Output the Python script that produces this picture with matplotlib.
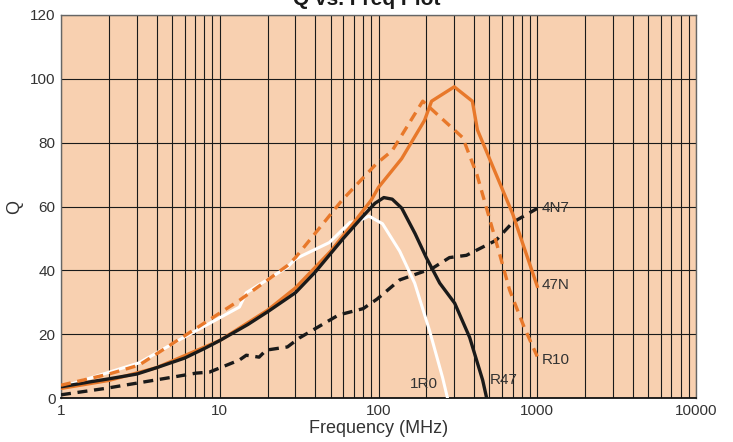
import matplotlib.pyplot as plt
from matplotlib.ticker import FixedLocator, NullFormatter

plt.rcParams['font.family'] = ['Liberation Sans', 'DejaVu Sans']

# Q vs frequency
f_47n = [1, 2, 4, 10, 20, 30, 50, 70, 90, 100, 140, 195, 216, 300, 390, 420, 700, 1000]
q_47n = [3, 5.5, 9.5, 18, 27.5, 34.5, 46, 55, 62, 66, 75, 87, 93, 97.5, 93, 84, 57.7, 35]

f_r10 = [1, 2, 3.1, 5.8, 13.3, 26.7, 30, 59, 97, 122, 190, 339, 417, 580, 670, 830, 1000]
q_r10 = [4, 7.5, 10.3, 19, 30.6, 41.5, 44, 62, 73.4, 77.5, 93, 81.6, 70, 45, 33.8, 22, 13]

f_r47 = [1, 1.5, 2, 3, 4, 6, 8, 10, 15, 20, 30, 40, 60, 80, 95, 108, 122, 140, 170, 200, 243, 302, 375, 453, 480]
q_r47 = [3.5, 5, 6, 7.5, 9.5, 12.5, 15.5, 18, 23, 27, 33, 39.5, 50, 57, 61, 62.8, 62.3, 59.5, 51.5, 44, 36, 29.7, 19, 5.6, 0]

f_1r0 = [1, 3.1, 5.8, 13.3, 14.7, 26.7, 30, 49, 66, 76, 87, 106, 136, 169, 210, 253, 272]
q_1r0 = [3.4, 11, 18.7, 28.5, 33, 41, 43.6, 48.7, 55, 55.6, 57, 54.6, 46, 36, 21, 6.5, 0]

f_4n7 = [1, 1.9, 5, 7.1, 8.6, 13.3, 14.7, 17.7, 19.6, 26.7, 31.7, 56, 80, 98, 136, 218, 280, 358, 550, 700, 1000]
q_4n7 = [1, 3, 6.5, 7.8, 8.1, 11.9, 13.4, 12.8, 15, 16, 18.8, 26, 28, 31, 37, 40.6, 44, 44.7, 49.4, 55, 59.4]

labels = ['4N7', '47N', 'R10', 'R47', '1R0']
label_x = [1060, 1060, 1060, 502, 157]
label_y = [59.5, 35.5, 12, 5.5, 4.5]

orange = '#e8782a'
txt = '#333333'

fig = plt.figure(figsize=(7.33, 4.42), dpi=100)
ax = fig.add_axes([61 / 733, 1 - 398 / 442, (696 - 61) / 733, (398 - 15) / 442])
ax.set_facecolor('#f8d0b0')
ax.set_xscale('log')
ax.set_xlim(1, 10000)
ax.set_ylim(0, 120)

ax.xaxis.set_major_locator(FixedLocator([1, 10, 100, 1000, 10000]))
ax.xaxis.set_minor_locator(FixedLocator([m * 10 ** d for d in range(4) for m in range(2, 10)]))
ax.xaxis.set_minor_formatter(NullFormatter())
ax.set_xticklabels(['1', '10', '100', '1000', '10000'])
ax.set_yticks(range(0, 121, 20))
ax.grid(True, which='both', axis='x', color='#1a1a1a', lw=0.8)
ax.grid(True, which='major', axis='y', color='#1a1a1a', lw=0.8)
ax.tick_params(which='both', length=0, labelsize=11, labelcolor=txt, pad=4)
for s in ax.spines.values():
    s.set_color('#666666')
    s.set_linewidth(1.0)
ax.spines['bottom'].set_color('#111111')
ax.spines['bottom'].set_linewidth(1.3)

ax.plot(f_4n7, q_4n7, color='#1a1a1a', lw=2.4, ls=(0, (3, 2)), zorder=3)
ax.plot(f_1r0, q_1r0, color='white', lw=2.2, zorder=3)
ax.plot(f_47n, q_47n, color=orange, lw=2.4, zorder=3)
ax.plot(f_r47, q_r47, color='#1a1a1a', lw=2.4, zorder=4)
ax.plot(f_r10, q_r10, color=orange, lw=2.4, ls=(0, (3, 2)), zorder=4)

for t, x, y in zip(labels, label_x, label_y):
    ax.text(x, y, t, fontsize=11, color=txt, va='center', ha='left', zorder=5)

ax.set_xlabel('Frequency (MHz)', fontsize=13, color=txt, labelpad=2)
ax.set_ylabel('Q', fontsize=13, color=txt, labelpad=5)
fig.text(0.5, 1 - 5 / 442, 'Q vs. Freq Plot', fontsize=15, fontweight='bold',
         color='#1a1a1a', ha='center', va='baseline')

fig.savefig('out.png', dpi=100)
